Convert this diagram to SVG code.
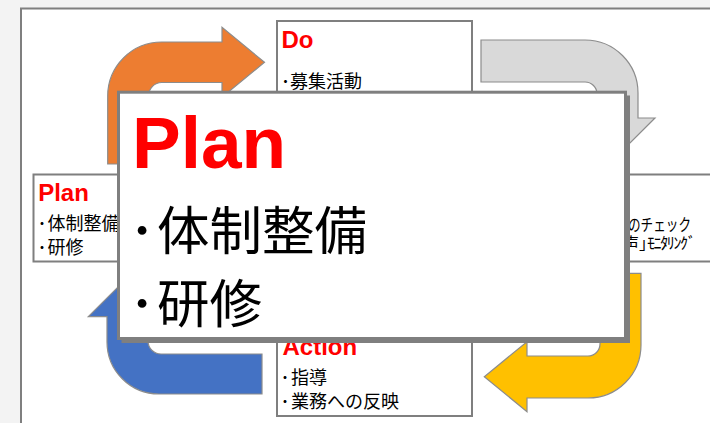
<svg xmlns="http://www.w3.org/2000/svg" width="710" height="423" viewBox="0 0 710 423">
<style>
.bg{fill:#f3f3f3}
.frame{fill:#ffffff;stroke:#7f7f7f;stroke-width:2}
.box{fill:#ffffff;stroke:#7f7f7f;stroke-width:2}
.arrow{stroke:#8c8c8c;stroke-width:1.2;stroke-linejoin:miter}
.head{font-family:"Liberation Sans",Arial,sans-serif;font-weight:bold;fill:#ff0000}
.jp{font-family:"Noto Sans CJK JP","Noto Sans CJK SC",sans-serif;fill:#000000}
.s{font-size:18px}
.b{font-size:52.5px}
</style>
<rect class="bg" x="0" y="0" width="710" height="423"/>
<rect class="frame" x="21" y="8.5" width="800" height="500"/>
<g id="connectors">
<path class="arrow" fill="#ed7d31" d="M107.7,164 L107.7,96 A54,54 0 0 1 161.7,42 L222,42 L222,27.3 L264.5,62.3 L222,97.3 L222,82.5 L161.7,82.5 A13,13 0 0 0 148.7,95.5 L148.7,164 Z"/>
<path class="arrow" fill="#d9d9d9" d="M481,40 L585,40 A53,53 0 0 1 638,93 L638,118 L655,118 L617.5,155.5 L580,118 L597,118 L597,94 A12,12 0 0 0 585,82 L481,82 Z"/>
<path class="arrow" fill="#ffc000" d="M600,273.3 L641,273.3 L641,345 A53,53 0 0 1 588,398 L527,398 L527,411.7 L484.3,376.7 L527,341.7 L527,356 L588,356 A12,12 0 0 0 600,344 Z"/>
<path class="arrow" fill="#4472c4" d="M262,394 L159,394 A52,52 0 0 1 107,342 L107,316.7 L88.3,316.7 L127.5,277.5 L166.7,316.7 L148,316.7 L148,341 A13,13 0 0 0 161,354 L262,354 Z"/>
</g>
<g id="do">
<rect class="box" x="277" y="21" width="195" height="88"/>
<text class="head" x="281.5" y="48" font-size="24">Do</text>
<text class="jp s" y="88"><tspan x="281">･</tspan><tspan x="290">募集活動</tspan></text>
</g>
<g id="plan">
<rect class="box" x="33.5" y="174.5" width="195" height="87"/>
<text class="head" x="38.2" y="201" font-size="24">Plan</text>
<text class="jp s" y="229.5"><tspan x="37.5">･</tspan><tspan x="47.5">体制整備</tspan></text>
<text class="jp s" y="254"><tspan x="37.5">･</tspan><tspan x="47.5">研修</tspan></text>
</g>
<g id="check">
<rect class="box" x="520" y="174.5" width="200" height="87"/>
<text class="jp" x="628" y="231" font-size="17" textLength="63" lengthAdjust="spacingAndGlyphs">のチェック</text>
<text class="jp" y="248.5" font-size="16"><tspan x="623">声」</tspan><tspan x="647" letter-spacing="-1.4">ﾓﾆﾀﾘﾝｸﾞ</tspan></text>
</g>
<g id="action">
<rect class="box" x="277" y="328" width="195" height="88"/>
<text class="head" x="282.5" y="355" font-size="24">Action</text>
<text class="jp s" y="383.5"><tspan x="280.5">･</tspan><tspan x="291">指導</tspan></text>
<text class="jp s" y="407.5"><tspan x="280.5">･</tspan><tspan x="291">業務への反映</tspan></text>
</g>
<g id="popup">
<rect x="121.5" y="95.5" width="508.5" height="247.5" fill="#7f7f7f"/>
<rect x="118.5" y="92.2" width="507" height="246.3" fill="#ffffff" stroke="#7f7f7f" stroke-width="3"/>
<text class="head" x="132" y="168.3" font-size="73">Plan</text>
<text class="jp b" y="249.5"><tspan x="129">･</tspan><tspan x="157">体制整備</tspan></text>
<text class="jp b" y="323"><tspan x="129">･</tspan><tspan x="157">研修</tspan></text>
</g>
</svg>
